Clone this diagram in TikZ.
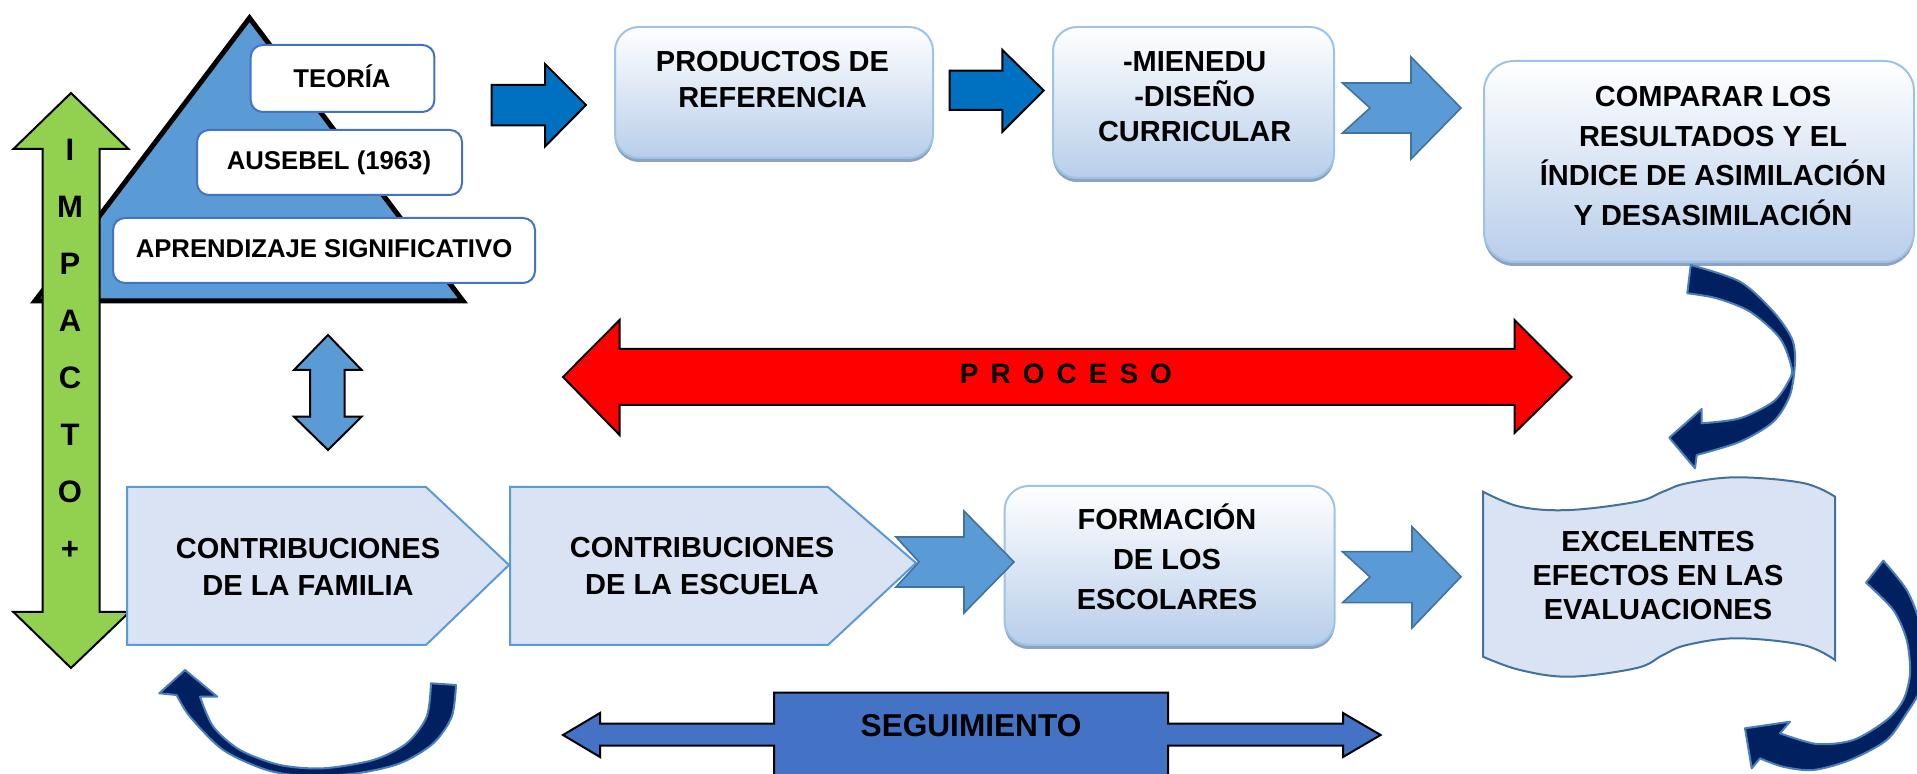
\documentclass[tikz,border=0pt]{standalone}
\usepackage{fontspec}
\setmainfont{Liberation Sans}
\definecolor{triblue}{RGB}{91,155,213}
\definecolor{greenc}{RGB}{146,208,80}
\definecolor{arrowdark}{RGB}{0,112,192}
\definecolor{sbline}{RGB}{68,114,196}
\definecolor{bbline}{RGB}{157,195,230}
\definecolor{bbfill}{RGB}{184,206,234}
\definecolor{shadowc}{RGB}{140,162,190}
\definecolor{chevfill}{RGB}{218,227,243}
\definecolor{notchline}{RGB}{65,113,156}
\definecolor{segc}{RGB}{68,114,196}
\definecolor{navyc}{RGB}{0,32,96}
\definecolor{navyline}{RGB}{74,126,187}
\begin{document}
\begin{tikzpicture}[x=0.5pt,y=-0.5pt,
  blk/.style={draw=black, line width=1pt, line join=miter},
  darrow/.style={blk, fill=arrowdark},
  notcharrow/.style={draw=notchline, line width=0.8pt, fill=triblue, line join=miter},
  smallbox/.style={draw=sbline, line width=1pt, fill=white, rounded corners=6pt},
  bigbox/.style={draw=bbline, line width=1pt, rounded corners=12pt, top color=white, bottom color=bbfill},
  shadowbox/.style={fill=shadowc, rounded corners=12pt},
  chev/.style={draw=triblue, line width=1pt, fill=chevfill, line join=miter},
  navyarrow/.style={fill=navyc, draw=navyline, line width=1pt, line join=round},
  wavebox/.style={fill=chevfill, draw=notchline, line width=1pt},
  bt/.style={font=\fontsize{14.5}{#1}\selectfont\bfseries, align=center, inner sep=0pt},
  st/.style={font=\fontsize{12.85}{15}\selectfont\bfseries, inner sep=0pt, anchor=base}
]
\useasboundingbox (0,0) rectangle (1917,774);
\clip (0,0) rectangle (1917,774);

% triangle
\draw[line width=2.5pt, fill=triblue, line join=miter] (249.5,18) -- (463,301) -- (35,301) -- cycle;

% green double arrow
\draw[blk, fill=greenc] (71,93) -- (128.5,149) -- (99.5,149) -- (99.5,612) -- (129.5,612) -- (71,668)
  -- (13.4,612) -- (42.5,612) -- (42.5,149) -- (13.4,149) -- cycle;
\node[font=\fontsize{15.5}{28.5}\selectfont\bfseries, align=center, inner sep=0pt] (timp) at (70,349.5) {I\\M\\P\\A\\C\\T\\O\\+};

% small boxes
\draw[smallbox] (250.7,45) rectangle (434.4,112);
\draw[smallbox] (197,130) rectangle (462,195);
\draw[smallbox] (113,218) rectangle (535,283);
\node[st] (tteo) at (342,87.2) {TEORÍA};
\node[st] (taus) at (329,170) {AUSEBEL (1963)};
\node[st] (tapr) at (324,258) {APRENDIZAJE SIGNIFICATIVO};

% dark blue arrows
\draw[darrow] (491.5,85) -- (545,85) -- (545,64) -- (586,105) -- (545,146.5) -- (545,125.5) -- (491.5,125.5) -- cycle;
\draw[darrow] (949.6,70.7) -- (1002.4,70.7) -- (1002.4,50) -- (1043.7,90.5) -- (1002.4,131.7) -- (1002.4,110) -- (949.6,110) -- cycle;

% big boxes
\fill[shadowbox] (615,31) rectangle (933,162);
\draw[bigbox] (615,27) rectangle (933,158);
\node[bt=18] (tprod) at (772.5,80) {PRODUCTOS DE\\REFERENCIA};

\fill[shadowbox] (1053,31) rectangle (1334,182);
\draw[bigbox] (1053,27) rectangle (1334,178);
\node[bt=17.5] (tmin) at (1194.7,97) {-MIENEDU\\-DISEÑO\\CURRICULAR};

\fill[shadowbox, rounded corners=15pt] (1484,65) rectangle (1914,266);
\draw[bigbox, rounded corners=15pt] (1484,61) rectangle (1914,262);
\node[bt=19.7] (tcomp) at (1713,156) {COMPARAR LOS\\RESULTADOS Y EL\\ÍNDICE DE ASIMILACIÓN\\Y DESASIMILACIÓN};

\fill[shadowbox] (1004.6,490) rectangle (1334.7,649);
\draw[bigbox] (1004.6,486) rectangle (1334.7,645);
\node[bt=20] (tform) at (1167,557) {FORMACIÓN\\DE LOS\\ESCOLARES};

% notched arrows
\draw[notcharrow] (1342.5,83) -- (1411,83) -- (1411,57) -- (1461,108) -- (1411,159) -- (1411,133) -- (1342.5,133) -- (1370,108) -- cycle;

% red double arrow
\draw[blk, fill=red] (563,377) -- (619.6,320) -- (619.6,349) -- (1514.5,349) -- (1514.5,320) -- (1571.5,377)
  -- (1514.5,433) -- (1514.5,405) -- (619.6,405) -- (619.6,435) -- cycle;
\node[font=\fontsize{14}{16}\selectfont\bfseries, inner sep=0pt, anchor=base] (tproc) at (1066,383.3)
  {P\kern6pt R\kern6pt O\kern6pt C\kern6pt E\kern6pt S\kern6pt O};

% small vertical double arrow
\draw[blk, fill=triblue] (328,335) -- (361.6,370) -- (344.6,370) -- (344.6,416.7) -- (361.6,416.7) -- (328,450)
  -- (294,416.7) -- (310,416.7) -- (310,370) -- (294,370) -- cycle;

% chevrons
\draw[chev] (127,487) -- (426,487) -- (509,565) -- (426,645) -- (127,645) -- cycle;
\node[bt=18.5] (tfam) at (308,566.5) {CONTRIBUCIONES\\DE LA FAMILIA};
\draw[chev] (510,487) -- (828,487) -- (916,563) -- (828,645) -- (510,645) -- cycle;
\node[bt=18.5] (tesc) at (702,566.5) {CONTRIBUCIONES\\DE LA ESCUELA};

\draw[notcharrow] (896,537) -- (964,537) -- (964,511) -- (1014,562) -- (964,613) -- (964,587) -- (896,587) -- (919,562) -- cycle;
\draw[notcharrow] (1342.5,551.7) -- (1412,551.7) -- (1412,526.7) -- (1461,576.7) -- (1412,628) -- (1412,602.7) -- (1342.5,602.7) -- (1370,577) -- cycle;

% wave box
\draw[wavebox] plot[smooth, tension=0.6] coordinates {(1483,491.7) (1520,506.7) (1570,510) (1636.7,501.7) (1663,491.7) (1686.7,483.3) (1736.7,477.3) (1803,483) (1835,496.7)}
  -- plot[smooth, tension=0.6] coordinates {(1835,660) (1803,645) (1736.7,638.3) (1686.7,645) (1663,655) (1636.7,668) (1570,676.7) (1520,670) (1483,656.7)} -- cycle;
\node[bt=17] (texc) at (1658,576) {EXCELENTES\\EFECTOS EN LAS\\EVALUACIONES};

% seguimiento
\draw[blk, fill=segc] (563,735) -- (600,713) -- (600,723.5) -- (774,723.5) -- (774,692.7) -- (1168,692.7) -- (1168,723.5)
  -- (1343,723.5) -- (1343,713) -- (1380.6,735) -- (1343,757) -- (1343,745.5) -- (1168,745.5) -- (1168,790)
  -- (774,790) -- (774,745.5) -- (600,745.5) -- (600,757) -- cycle;
\node[font=\fontsize{15.8}{18}\selectfont\bfseries, inner sep=0pt, anchor=base] (tseg) at (971,736) {SEGUIMIENTO};

% curved arrows
\draw[navyarrow] plot[smooth] coordinates {(1690.7,265) (1740,281.7) (1773.3,311.7) (1791.7,338.3) (1795,361.7) (1790,395) (1773.3,421.7) (1740,441.7) (1696.7,455)}
  -- (1695,468.3) -- (1669.3,437.7) -- (1701.7,409)
  -- plot[smooth] coordinates {(1701.7,423.3) (1740,418.3) (1773.3,401.7) (1788.3,381.7) (1791.7,368.3) (1780,338.3) (1750,311.7) (1716.7,298.3) (1687.3,293.3)} -- cycle;

\draw[navyarrow] (1866,582.7) -- plot[smooth] coordinates {(1883.3,560.7) (1906.7,590) (1920,623) (1926.7,656.7) (1920,690) (1906.7,713) (1886.7,740) (1850,760) (1813.3,770) (1783,766.7) (1760,758.3)}
  -- (1751.7,768.3) -- (1745,728.3) -- (1790,721.7)
  -- plot[smooth] coordinates {(1780,733.3) (1816.7,744) (1853.3,740) (1886.7,720) (1903.3,700) (1910,673.3) (1906.7,640) (1893.3,610) (1866,582.7)} -- cycle;

\draw[navyarrow] (431,683.3) -- plot[smooth] coordinates {(456,685) (451.7,716.7) (433.3,743.3) (400,763.3) (356.7,773.3) (306.7,776) (266.7,770) (223.3,750) (190,716.7) (176.7,695)}
  -- (159.3,693.3) -- (185,670) -- (217.3,696.7)
  -- plot[smooth] coordinates {(200,696.7) (213.3,726.7) (240,750) (280,765) (323.3,768.3) (373.3,760) (406.7,743.3) (426.7,716.7) (431,683.3)} -- cycle;
\end{tikzpicture}
\end{document}
